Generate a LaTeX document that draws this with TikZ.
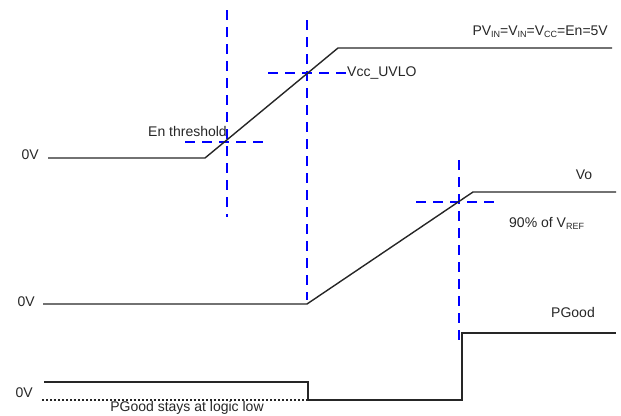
\documentclass[tikz,border=0pt]{standalone}
\usepackage{fontspec}
\setmainfont{Liberation Sans}
\begin{document}
\begin{tikzpicture}[x=1pt,y=-1pt,
  wave/.style={draw=black!85,line width=1.4pt,line join=miter},
  guide/.style={draw=blue,line width=1.5pt,dash pattern=on 10pt off 7pt},
  lowref/.style={draw=black!85,line width=1.3pt,dash pattern=on 2pt off 2pt},
  lbl/.style={inner sep=0pt,font=\fontsize{14}{16}\selectfont,text=black!85}]
\useasboundingbox (0,0) rectangle (621,415);
% coordinates
\coordinate (a0) at (48,158);
\coordinate (a1) at (205,158);
\coordinate (a2) at (338,48);
\coordinate (a3) at (612,48);
\coordinate (b0) at (43,304);
\coordinate (b1) at (307,304);
\coordinate (b2) at (473,192);
\coordinate (b3) at (616,192);
\coordinate (c0) at (44,382);
\coordinate (c1) at (308,382);
\coordinate (c2) at (308,400);
\coordinate (c3) at (462,400);
\coordinate (c4) at (462,333);
\coordinate (c5) at (616,333);
\coordinate (d0) at (42,400);
% guides
\coordinate (g1t) at (227,10);   \coordinate (g1b) at (227,217);
\coordinate (g1l) at (185,142);  \coordinate (g1r) at (265,142);
\coordinate (g2t) at (307,20);   \coordinate (g2b) at (307,300);
\coordinate (g2l) at (268,73);   \coordinate (g2r) at (347,73);
\coordinate (g3t) at (459,160);  \coordinate (g3b) at (459,347);
\coordinate (g3l) at (416,202);  \coordinate (g3r) at (497,202);
\draw[guide] (g1t) -- (g1b);
\draw[guide] (g1l) -- (g1r);
\draw[guide] (g2t) -- (g2b);
\draw[guide] (g2l) -- (g2r);
\draw[guide] (g3t) -- (g3b);
\draw[guide] (g3l) -- (g3r);
% waves
\draw[wave] (a0) -- (a1) -- (a2) -- (a3);
\draw[wave] (b0) -- (b1) -- (b2) -- (b3);
\draw[wave] (c0) -- (c1) -- (c2) -- (c3) -- (c4) -- (c5);
\draw[lowref] (d0) -- (c2);
% labels
\node[lbl,anchor=east] (z1) at (39,155) {0V};
\node[lbl,anchor=east] (z2) at (35,302) {0V};
\node[lbl,anchor=east] (z3) at (33,393) {0V};
\node[lbl,anchor=east] (en) at (227,131) {En threshold};
\node[lbl,anchor=west] (uv) at (347,73) {Vcc\_UVLO};
\node[lbl,anchor=east] (pv) at (608,32) {PV{\fontsize{9}{10}\selectfont\raisebox{-2pt}{IN}}=V{\fontsize{9}{10}\selectfont\raisebox{-2pt}{IN}}=V{\fontsize{9}{10}\selectfont\raisebox{-2pt}{CC}}=En=5V};
\node[lbl] (vo) at (584,175) {Vo};
\node[lbl,anchor=west] (ref) at (509,223) {90\% of V{\fontsize{9}{10}\selectfont\raisebox{-2pt}{REF}}};
\node[lbl] (pg) at (573,312) {PGood};
\node[lbl] (st) at (187,407.5) {PGood stays at logic low};
\end{tikzpicture}
\end{document}
